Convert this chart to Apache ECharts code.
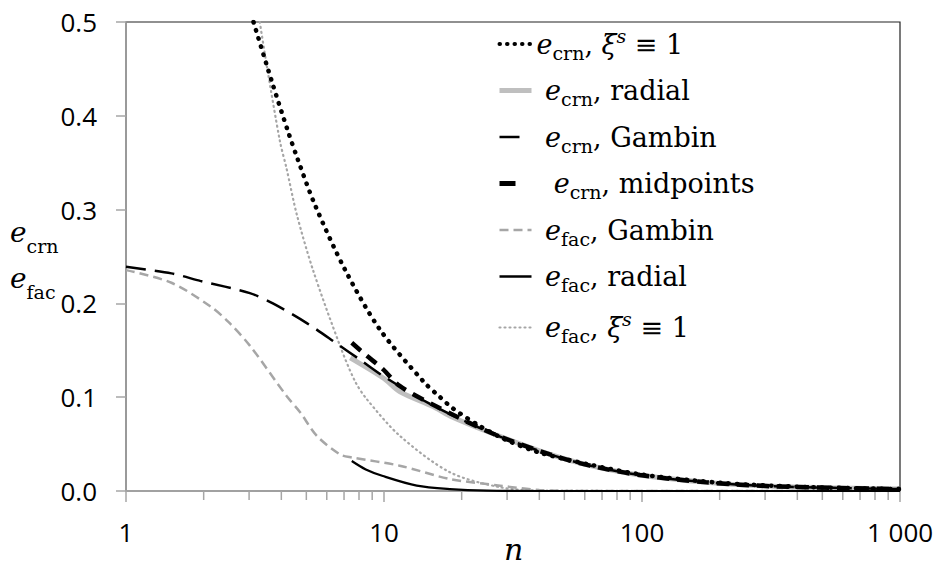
<!DOCTYPE html>
<html>
<head>
<meta charset="utf-8">
<script src="https://cdn.jsdelivr.net/npm/echarts@6/dist/echarts.min.js"></script>
<style>
  html, body { margin: 0; padding: 0; background: #fff; }
  #chart { width: 939px; height: 568px; }
</style>
</head>
<body>
<div id="chart"></div>
<script>
// ---- data ----
var nCrnXi  = [3.12, 3.25, 3.7, 4.25, 4.64, 5.4, 7.06, 9.65, 14.3, 16.5, 18.5, 23.6, 30, 40, 63, 100, 200, 400, 1000];
var eCrnXi  = [0.500, 0.484, 0.434, 0.383, 0.353, 0.305, 0.236, 0.172, 0.116, 0.100, 0.088, 0.069, 0.054, 0.041, 0.028, 0.0175, 0.0088, 0.0046, 0.002];

var nCrnRad = [7.4, 10, 11.5, 15.5, 18, 26.5, 44, 63, 98, 178, 322, 585, 1000];
var eCrnRad = [0.142, 0.120, 0.106, 0.090, 0.080, 0.061, 0.039, 0.027, 0.017, 0.0092, 0.005, 0.0032, 0.002];

var nCrnGam = [1, 1.5, 1.94, 3.02, 3.71, 5.02, 6.65, 8.07, 10, 15.5, 26.5, 44, 63, 98, 178, 322, 585, 1000];
var eCrnGam = [0.239, 0.232, 0.224, 0.211, 0.200, 0.179, 0.156, 0.140, 0.122, 0.091, 0.061, 0.039, 0.027, 0.017, 0.0092, 0.005, 0.0032, 0.002];

var nCrnMid = [7.5, 8.5, 9.9, 11.5, 15.5, 26.5, 44, 63, 98, 178, 322, 585, 1000];
var eCrnMid = [0.158, 0.145, 0.130, 0.112, 0.092, 0.061, 0.039, 0.027, 0.017, 0.0092, 0.005, 0.0032, 0.002];

var nFacGam = [1, 1.5, 2.12, 2.5, 3.02, 4.2, 4.73, 5.48, 6.75, 7.5, 11.5, 18, 28.2, 40, 60, 1000];
var eFacGam = [0.2355, 0.222, 0.197, 0.180, 0.155, 0.101, 0.084, 0.059, 0.039, 0.0358, 0.027, 0.0128, 0.0057, 0.001, 0, 0];

var nFacRad = [7.5, 8.5, 9.9, 13.4, 18, 25, 40, 1000];
var eFacRad = [0.032, 0.023, 0.016, 0.0057, 0.002, 0.0003, 0, 0];

var nFacXi  = [3.3, 3.51, 3.95, 4.19, 4.59, 5.3, 6.75, 7.72, 8.57, 11.5, 18, 28.2, 40, 1000];
var eFacXi  = [0.500, 0.454, 0.373, 0.344, 0.295, 0.236, 0.155, 0.117, 0.098, 0.059, 0.020, 0.004, 0.0005, 0];

var minorTicks = [2, 3, 4, 5, 6, 7, 8, 9, 20, 30, 40, 50, 60, 70, 80, 90, 200, 300, 400, 500, 600, 700, 800, 900];

var legendLabels = {
  crnXi:  '{e|e}{sub|crn}{t|, }{e|ξ}{sup|s}{t| ≡ 1}',
  crnRad: '{t| }{e|e}{sub|crn}{t|, radial}',
  crnGam: '{t| }{e|e}{sub|crn}{t|, Gambin}',
  crnMid: '{t|  }{e|e}{sub|crn}{t|, midpoints}',
  facGam: '{t| }{e|e}{sub|fac}{t|, Gambin}',
  facRad: '{t| }{e|e}{sub|fac}{t|, radial}',
  facXi:  '{t| }{e|e}{sub|fac}{t|, }{e|ξ}{sup|s}{t| ≡ 1}'
};

function zip(xs, ys) {
  return xs.map(function (x, i) { return [x, ys[i]]; });
}

var serif = '"DejaVu Serif", "Liberation Serif", serif';
var richText = {
  e:   { fontFamily: serif, fontStyle: 'italic', fontSize: 27, lineHeight: 36, verticalAlign: 'middle', color: '#000' },
  sub: { fontFamily: serif, fontSize: 19, lineHeight: 22, verticalAlign: 'bottom', color: '#000' },
  sup: { fontFamily: serif, fontStyle: 'italic', fontSize: 19, lineHeight: 22, verticalAlign: 'top', color: '#000' },
  t:   { fontFamily: serif, fontSize: 27, lineHeight: 36, verticalAlign: 'middle', color: '#000' }
};

var gray = '#a6a6a6';

// line styles, in legend order
var styles = {
  crnXi:  { color: '#000', width: 4.5, type: [0.5, 8], cap: 'round' },
  crnRad: { color: '#bfbfbf', width: 5 },
  crnGam: { color: '#000', width: 2.5, type: [20, 9] },
  crnMid: { color: '#000', width: 4.5, type: [12, 8] },
  facGam: { color: gray, width: 2.5, type: [9, 5] },
  facRad: { color: '#000', width: 2.2 },
  facXi:  { color: gray, width: 2.2, type: [1, 4], cap: 'round' }
};
var legendIconStyles = {
  crnXi:  { color: '#000', width: 4, type: [0.5, 7], cap: 'round' },
  crnRad: { color: '#bfbfbf', width: 5 },
  crnGam: { color: '#000', width: 2.5, type: [20, 40] },
  crnMid: { color: '#000', width: 5, type: [16, 40] },
  facGam: { color: gray, width: 2.5, type: [9, 5] },
  facRad: { color: '#000', width: 2.5 },
  facXi:  { color: gray, width: 2.2, type: [1, 4], cap: 'round' }
};

function lineSeries(name, xs, ys, z) {
  var st = styles[name];
  return {
    name: name,
    type: 'line',
    data: zip(xs, ys),
    symbol: 'none',
    smooth: 0.3,
    z: z,
    color: st.color,
    itemStyle: { color: st.color, opacity: 0 },
    lineStyle: st
  };
}

var chart = echarts.init(document.getElementById('chart'), null, { renderer: 'svg' });

var option = {
  animation: false,
  backgroundColor: '#fff',
  grid: {
    left: 126, right: 39, top: 22, bottom: 77,
    outerBoundsMode: 'none',
    containLabel: false,
    show: true, borderColor: '#222', borderWidth: 1.2
  },
  legend: {
    orient: 'vertical',
    left: 492,
    top: 21,
    itemWidth: 32,
    itemHeight: 12,
    itemGap: 15,
    data: Object.keys(legendLabels).map(function (k) {
      return { name: k, lineStyle: legendIconStyles[k], itemStyle: { opacity: 0 } };
    }),
    itemStyle: { opacity: 0 },
    formatter: function (name) { return legendLabels[name]; },
    textStyle: { rich: richText }
  },
  xAxis: {
    type: 'log',
    logBase: 10,
    min: 1,
    max: 1000,
    axisLine: { lineStyle: { color: gray, width: 1.5 } },
    axisTick: { show: true, inside: false, length: 11, lineStyle: { color: gray, width: 1.5 } },
    minorTick: { show: false },
    splitLine: { show: false },
    axisLabel: {
      margin: 28,
      fontFamily: '"Open Sans", sans-serif',
      fontSize: 26,
      color: '#000',
      formatter: function (v) { return v >= 1000 ? '1 000' : String(v); }
    }
  },
  yAxis: {
    type: 'value',
    min: 0,
    max: 0.5,
    interval: 0.1,
    axisLine: { show: true, lineStyle: { color: gray, width: 1.5 } },
    axisTick: { show: true, inside: false, length: 10, lineStyle: { color: gray, width: 1.5 } },
    splitLine: { show: false },
    axisLabel: {
      margin: 29,
      fontFamily: '"Open Sans", sans-serif',
      fontSize: 26,
      color: '#000',
      formatter: function (v) { return v.toFixed(1); }
    }
  },
  graphic: [{
    type: 'text',
    left: 10,
    top: 218,
    style: {
      text: '{e|e}{sub|crn}\n{e|e}{sub|fac}',
      rich: {
        e:   { fontFamily: serif, fontStyle: 'italic', fontSize: 28, lineHeight: 46, verticalAlign: 'middle', fill: '#000' },
        sub: { fontFamily: serif, fontSize: 19, lineHeight: 30, verticalAlign: 'bottom', fill: '#000' }
      }
    }
  }, {
    type: 'text',
    left: 504,
    top: 534,
    style: {
      text: 'n',
      fontFamily: serif,
      fontStyle: 'italic',
      fontSize: 30,
      fill: '#000'
    }
  }],
  series: [
    lineSeries('crnRad', nCrnRad, eCrnRad, 2),
    lineSeries('facGam', nFacGam, eFacGam, 3),
    lineSeries('facXi', nFacXi, eFacXi, 3),
    lineSeries('facRad', nFacRad, eFacRad, 4),
    lineSeries('crnGam', nCrnGam, eCrnGam, 5),
    lineSeries('crnMid', nCrnMid, eCrnMid, 6),
    lineSeries('crnXi', nCrnXi, eCrnXi, 7),
    {
      name: 'minorTicks',
      type: 'custom',
      silent: true,
      clip: false,
      data: minorTicks.map(function (v) { return [v, 0]; }),
      encode: { x: 0, y: 1 },
      renderItem: function (params, api) {
        var p = api.coord([api.value(0), 0]);
        return {
          type: 'line',
          shape: { x1: p[0], y1: p[1], x2: p[0], y2: p[1] + 9 },
          style: { stroke: gray, lineWidth: 1.5 }
        };
      }
    }
  ]
};

chart.setOption(option);
</script>
</body>
</html>
